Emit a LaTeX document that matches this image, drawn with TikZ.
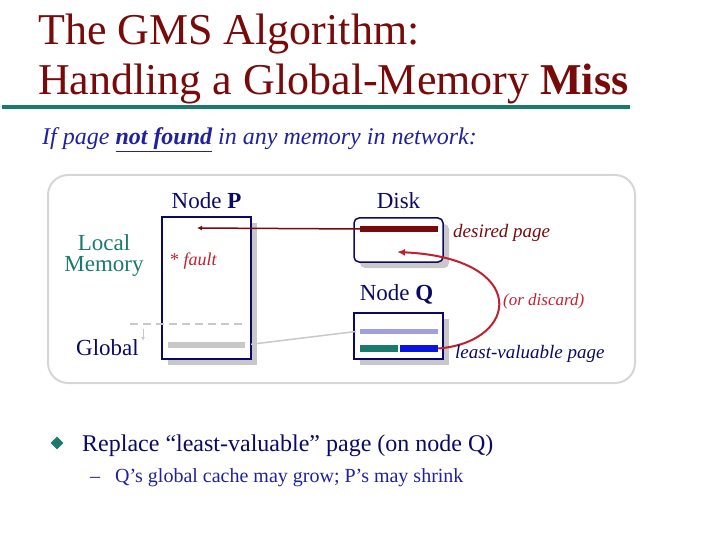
\documentclass[tikz,border=0pt]{standalone}
\usepackage{fontspec}
\setmainfont{Liberation Serif}
\usetikzlibrary{arrows.meta, positioning, shadows, shapes.geometric}
\definecolor{gmsred}{HTML}{780A0A}
\definecolor{gmsteal}{HTML}{1A7A6E}
\definecolor{gmsnavy}{HTML}{0A0A66}
\definecolor{gmsblue}{HTML}{2020A0}
\definecolor{gmsfault}{HTML}{C02030}
\definecolor{gmsgray}{HTML}{C8C8C8}
\definecolor{gmsframe}{HTML}{D6D6D6}
\definecolor{gmsbright}{HTML}{0A14E0}
\definecolor{gmshatch}{HTML}{A0A0E0}

\begin{document}
\begin{tikzpicture}[x=1pt, y=-1pt,
    memblock/.style={draw=gmsnavy, line width=1.5pt, fill=white, inner sep=0pt,
                 drop shadow={shadow xshift=6pt, shadow yshift=-6pt, fill=gmsgray, opacity=1}},
    pagebar/.style={inner sep=0pt, minimum height=5pt, minimum width=78pt},
    lbl/.style={font=\fontsize{23}{25}\selectfont, text=gmsnavy, inner sep=0pt},
    note/.style={font=\fontsize{19}{21}\selectfont\itshape, inner sep=0pt, anchor=base west},
    pagearr/.style={-{Latex[length=5pt, width=5pt]}, line width=1.5pt, draw=gmsred},
    discardarr/.style={-{Latex[length=8pt, width=7pt]}, line width=2pt, draw=gmsfault}
  ]
    \useasboundingbox (0,0) rectangle (720,540);

    % title
    \node[inner sep=0pt, anchor=base west, text=gmsred, font=\fontsize{44}{48}\selectfont] (title1) at (38,45) {The GMS Algorithm:};
    \node[inner sep=0pt, anchor=base west, text=gmsred, font=\fontsize{44}{48}\selectfont] (title2) at (38,95) {Handling a Global-Memory \textbf{Miss}};
    \draw[gmsteal, line width=4pt] (2,107) -- (630,107);
    \node[inner sep=0pt, anchor=base west, text=gmsblue, font=\fontsize{24}{26}\selectfont\itshape] (cond) at (42,145)
      {If page \textbf{\underline{not found}} in any memory in network:};

    % frame
    \draw[gmsframe, line width=2pt, rounded corners=20pt] (48,175) rectangle (635,383);

    % memory blocks
    \node[memblock, minimum width=89pt, minimum height=142pt] (nodeP) at (206.5,288) {};
    \node[memblock, rounded corners=5pt, minimum width=89pt, minimum height=44pt] (disk) at (398.5,240) {};
    \node[memblock, minimum width=89pt, minimum height=46pt] (nodeQ) at (398.5,336) {};
    \node[lbl, above=7pt of nodeP] (labP) {Node \textbf{P}};
    \node[lbl, above=8pt of disk] (labDisk) {Disk};
    \node[lbl, above=8pt of nodeQ, xshift=-2pt] (labQ) {Node \textbf{Q}};

    % pages
    \node[pagebar, fill=gmsred, minimum height=6pt] (desired) at (399,229) {};
    \node[pagebar, fill=gmsgray, minimum width=77pt, minimum height=6pt] (pglobal) at (206.5,345) {};
    \node[pagebar, fill=gmshatch] (qglobal) at (399,331) {};
    \node[pagebar, fill=gmsteal, minimum width=38pt, minimum height=7pt] (qlocal) at (379,348.5) {};
    \node[pagebar, fill=gmsbright, minimum width=38pt, minimum height=7pt] (victim) at (419,348.5) {};

    % local / global split in P
    \coordinate (splitL) at (130,324);
    \coordinate (splitR) at (245,324);
    \coordinate (growTop) at (143,329);
    \coordinate (growBot) at (143,341);
    \draw[gmsgray, line width=1.5pt, dash pattern=on 8pt off 5pt] (splitL) -- (splitR);
    \draw[gmsgray, line width=1pt, -{Latex[length=4pt, width=4pt]}] (growTop) -- (growBot);

    \node[inner sep=0pt, text=gmsteal, align=center, font=\fontsize{23}{21}\selectfont] (localmem) at (104,256) {Local\\Memory};
    \node[inner sep=0pt, anchor=base west, text=gmsnavy, font=\fontsize{23}{25}\selectfont] (globalmem) at (76,355) {Global};
    \node[inner sep=0pt, anchor=base west, font=\fontsize{18}{20}\selectfont] (fault) at (170,265)
      {\color{gmsfault}* \textit{fault}};

    % moves
    \coordinate (faultpt) at (197,228);
    \coordinate (diskin) at (397,252);
    \draw[pagearr] (desired.west) -- (faultpt);
    \draw[gmsgray, line width=1.5pt, shorten <=6pt, shorten >=4pt] (pglobal.east) -- (qglobal.west);
    \draw[discardarr] (victim.east) .. controls (520,342) and (530,258) .. (diskin);

    \node[note, text=gmsred] (desiredlab) at (453,237) {desired page};
    \node[note, text=gmsfault, font=\fontsize{17}{19}\selectfont\itshape] (discardlab) at (503,305) {(or discard)};
    \node[note, text=gmsnavy] (victimlab) at (455,358) {least-valuable page};

    % bullets
    \node[diamond, fill=gmsteal, inner sep=0pt, minimum size=13pt] (bul) at (57,443) {};
    \node[inner sep=0pt, anchor=base west, text=gmsnavy, font=\fontsize{24}{26}\selectfont] (point) at (82,451)
      {Replace “least-valuable” page (on node Q)};
    \node[inner sep=0pt, anchor=base west, text=gmsblue, font=\fontsize{20}{22}\selectfont] (dash) at (90,482) {–};
    \node[inner sep=0pt, anchor=base west, text=gmsblue, font=\fontsize{20}{22}\selectfont] (subpoint) at (115,482)
      {Q’s global cache may grow; P’s may shrink};
  \end{tikzpicture}
\end{document}
